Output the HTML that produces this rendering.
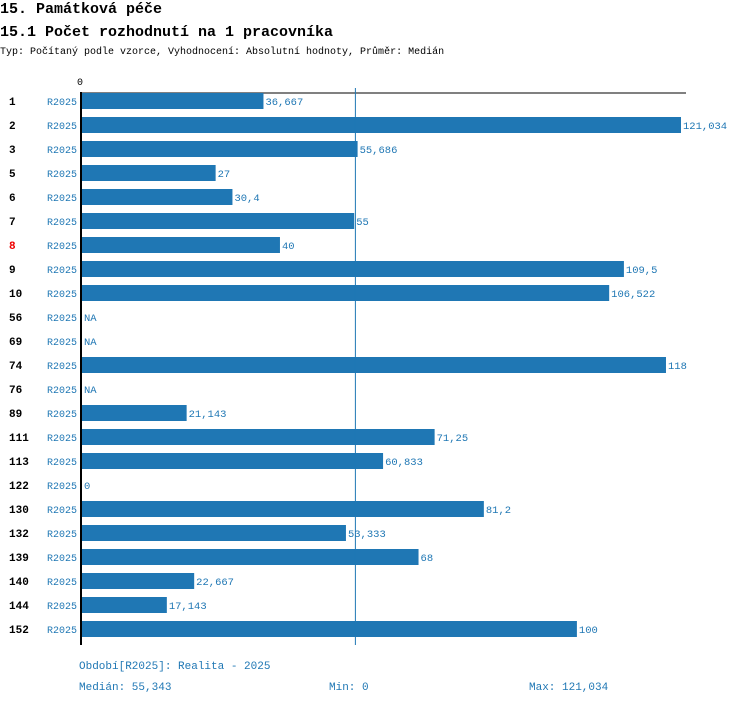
<!DOCTYPE html>
<html><head><meta charset="utf-8"><style>
body{margin:0;background:#fff;width:750px;height:704px;overflow:hidden;font-family:"Liberation Mono",monospace}
svg{position:absolute;left:0;top:0}
</style></head><body>
<svg id="c" width="750" height="704">
<text x="0" y="13" font-size="15" font-weight="bold" font-family="Liberation Mono,monospace">15. Památková péče</text>
<text x="0" y="36" font-size="15" font-weight="bold" font-family="Liberation Mono,monospace">15.1 Počet rozhodnutí na 1 pracovníka</text>
<text x="0" y="54" font-size="10" font-family="Liberation Mono,monospace">Typ: Počítaný podle vzorce, Vyhodnocení: Absolutní hodnoty, Průměr: Medián</text>
<text x="77" y="85" font-size="10" font-family="Liberation Mono,monospace">0</text>
<line x1="81" y1="93" x2="686" y2="93" stroke="#000" stroke-width="1"/>
<g id="bars"></g>
<line x1="81" y1="92" x2="81" y2="645" stroke="#000" stroke-width="2"/>
<line id="med" y1="88" y2="645" stroke="#1f77b4" stroke-width="1"/>
<text x="79" y="669" font-size="11" fill="#1f77b4" font-family="Liberation Mono,monospace">Období[R2025]: Realita - 2025</text>
<text x="79" y="690" font-size="11" fill="#1f77b4" font-family="Liberation Mono,monospace">Medián: 55,343</text>
<text x="329" y="690" font-size="11" fill="#1f77b4" font-family="Liberation Mono,monospace">Min: 0</text>
<text x="529" y="690" font-size="11" fill="#1f77b4" font-family="Liberation Mono,monospace">Max: 121,034</text>
</svg>
<script>
const categories=["1","2","3","5","6","7","8","9","10","56","69","74","76","89","111","113","122","130","132","139","140","144","152"];
const values=[36.667,121.034,55.686,27,30.4,55,40,109.5,106.522,null,null,118,null,21.143,71.25,60.833,0,81.2,53.333,68,22.667,17.143,100];
const valueLabels=["36,667","121,034","55,686","27","30,4","55","40","109,5","106,522","NA","NA","118","NA","21,143","71,25","60,833","0","81,2","53,333","68","22,667","17,143","100"];
const highlighted=["8"];
const median=55.343;
const NS="http://www.w3.org/2000/svg";
const x=v=>82+v*(599/121.034);
const y=i=>101+i*24;
const g=document.getElementById('bars');
const med=document.getElementById('med');
med.setAttribute('x1',x(median)-0.5);med.setAttribute('x2',x(median)-0.5);
function t(px,py,s,fill,size,bold,name){const e=document.createElementNS(NS,'text');e.setAttribute('x',px);e.setAttribute('y',py);e.setAttribute('font-size',size);e.setAttribute('fill',fill);e.setAttribute('font-family','Liberation Mono,monospace');if(bold)e.setAttribute('font-weight','bold');e.textContent=s;


g.appendChild(e);return e;}
categories.forEach((c,i)=>{
 const cy=y(i);
 t(9,cy+4,c,highlighted.includes(c)?'#e00':'#000',11,true,'category-label');
 t(47,cy+4,'R2025','#1f77b4',10,false,'period-label');
 let end=82;
 if(values[i]!=null){
  const r=document.createElementNS(NS,'rect');
  r.setAttribute('x',82);r.setAttribute('y',cy-8);r.setAttribute('width',x(values[i])-82);r.setAttribute('height',16);r.setAttribute('fill','#1f77b4');
  
  
  g.appendChild(r);end=x(values[i]);
 }
 t(end+2,cy+4,valueLabels[i],'#1f77b4',10.5,false,'value-label');
});
</script>
</body></html>
